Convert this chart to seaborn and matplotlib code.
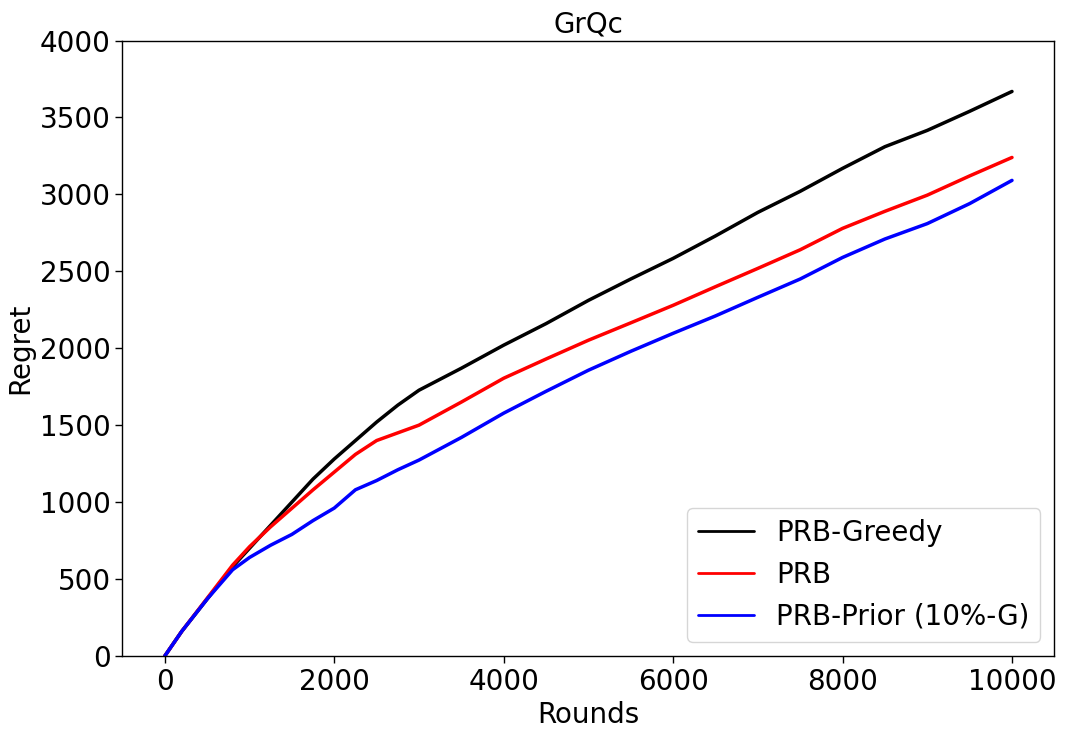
import numpy as np
import pandas as pd
import matplotlib
matplotlib.use("Agg")
import matplotlib.pyplot as plt
import seaborn as sns

rounds = [0, 200, 500, 800, 1000, 1250, 1500, 1750, 2000, 2250, 2500, 2750, 3000, 3500, 4000, 4500,
          5000, 5500, 6000, 6500, 7000, 7500, 8000, 8500, 9000, 9500, 10000]
greedy = [0, 160, 370, 580, 700, 850, 1000, 1150, 1280, 1400, 1520, 1630, 1727, 1870, 2020, 2160,
          2311, 2450, 2584, 2730, 2883, 3020, 3169, 3310, 3416, 3540, 3669]
prb = [0, 160, 375, 590, 710, 840, 960, 1080, 1195, 1310, 1400, 1450, 1500, 1650, 1805, 1930,
       2052, 2165, 2279, 2400, 2519, 2640, 2779, 2890, 2995, 3120, 3240]
prior = [0, 160, 370, 560, 640, 720, 790, 880, 961, 1080, 1140, 1210, 1273, 1420, 1578, 1720,
         1857, 1980, 2097, 2210, 2331, 2450, 2590, 2710, 2810, 2940, 3091]
labels = ["PRB-Greedy", "PRB", "PRB-Prior (10%-G)"]
colors = ["black", "red", "blue"]

df = pd.DataFrame({
    "Rounds": rounds * 3,
    "Regret": greedy + prb + prior,
    "Method": [labels[0]] * len(rounds) + [labels[1]] * len(rounds) + [labels[2]] * len(rounds),
})

sns.set_style("white")
plt.rcParams["font.family"] = ["DejaVu Sans"]
plt.rcParams["font.size"] = 20
plt.rcParams["text.color"] = "black"
plt.rcParams["axes.labelcolor"] = "black"
plt.rcParams["xtick.color"] = "black"
plt.rcParams["ytick.color"] = "black"

fig, ax = plt.subplots(figsize=(10.65, 7.37), dpi=100)
sns.lineplot(data=df, x="Rounds", y="Regret", hue="Method", palette=colors,
             hue_order=labels, linewidth=2.5, ax=ax)
ax.set_ylim(0, 4000)
ax.set_xlim(-500, 10500)
ax.set_title("GrQc", fontsize=20, color="black")
ax.set_xlabel("Rounds", fontsize=20)
ax.set_ylabel("Regret", fontsize=20)
ax.tick_params(axis="both", labelsize=20, direction="out", length=5, width=1,
               bottom=True, left=True, colors="black")
for s in ax.spines.values():
    s.set_color("black")
    s.set_linewidth(1)
leg = ax.legend(loc="lower right", fontsize=20, title=None, frameon=True)
for t in leg.get_texts():
    t.set_color("black")
for l in leg.get_lines():
    l.set_linewidth(2)
plt.subplots_adjust(left=0.115, right=0.99, top=0.945, bottom=0.11)
fig.savefig("out.png", dpi=100)
